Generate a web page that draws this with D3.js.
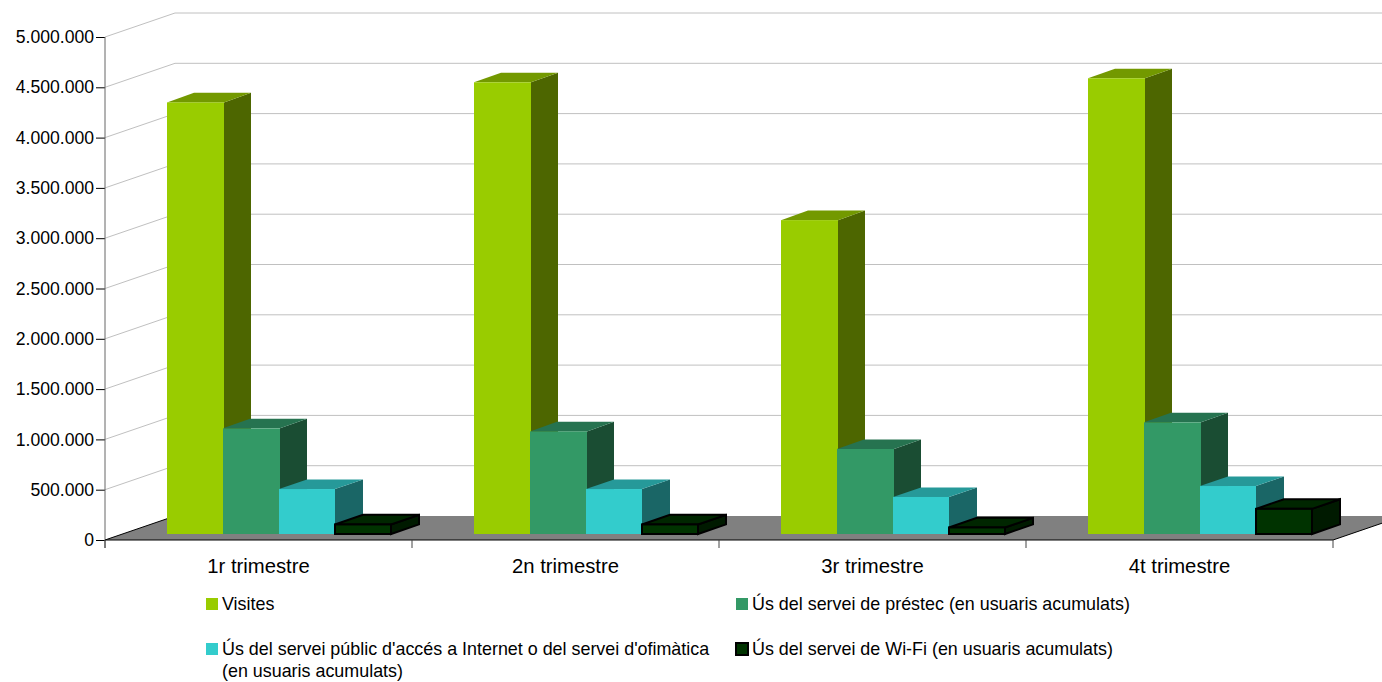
<!DOCTYPE html>
<html>
<head>
<meta charset="utf-8">
<script src="https://cdn.jsdelivr.net/npm/d3@7"></script>
<style>
  html, body { margin: 0; padding: 0; background: #fff; overflow: hidden; }
  text { font-family: "Liberation Sans", Arial, sans-serif; fill: #000; }
</style>
</head>
<body>
<div id="chart"></div>
<script>
var categories = ["1r trimestre", "2n trimestre", "3r trimestre", "4t trimestre"];
var seriesNames = [
    "Visites",
    "Ús del servei de préstec (en usuaris acumulats)",
    "Ús del servei públic d'accés a Internet o del servei d'ofimàtica",
    "Ús del servei de Wi-Fi (en usuaris acumulats)"
];
var visites = [4290000, 4490000, 3120000, 4530000];
var prestec = [1050000, 1020000, 845000, 1110000];
var internet = [447000, 447000, 368000, 477000];
var wifi = [95000, 95000, 65000, 250000];
var yTicks = [0, 500000, 1000000, 1500000, 2000000, 2500000, 3000000, 3500000, 4000000, 4500000, 5000000];

var fronts = ["#99cc00", "#339966", "#33cccc", "#003300"];
var tops = ["#739900", "#267350", "#269999", "#002600"];
var sides = ["#4d6600", "#1a4d33", "#1a6666", "#001a00"];
var strokes = ["none", "none", "none", "#000"];

var svgWidth = 1382;
var svgHeight = 682;

// wall depth and bar depth, the projection goes up and to the right
var depthX = 70, depthY = 24;
var barDepthX = 27, barDepthY = 9.6;
var baseLift = 6;

var svg = d3.select("#chart")
    .append("svg")
    .attr("width", svgWidth)
    .attr("height", svgHeight);

var x0 = d3.scaleBand().domain(categories).range([105, 1333]);
var x1 = d3.scaleBand().domain(d3.range(4)).range([62, 286]);
var y = d3.scaleLinear().domain([0, 5000000]).range([540, 37]);

// floor
var floorY = y(0);
svg.append("polygon")
    .attr("points", [[105, floorY], [1333, floorY], [1333 + depthX, floorY - depthY], [105 + depthX, floorY - depthY]].join(" "))
    .attr("fill", "#808080");

// grid on the left wall and the back wall
var grid = svg.append("g");
yTicks.slice(1).forEach(function (t) {
    grid.append("polyline")
        .attr("points", [[105, y(t)], [105 + depthX, y(t) - depthY], [svgWidth, y(t) - depthY]].join(" "))
        .attr("fill", "none")
        .attr("stroke", "#c0c0c0")
        .attr("stroke-width", 1);
});

svg.append("path")
    .attr("d", "M105," + floorY + "L" + (105 + depthX) + "," + (floorY - depthY))
    .attr("stroke", "#000");
svg.append("path")
    .attr("d", "M1333," + floorY + "L" + (1333 + depthX) + "," + (floorY - depthY))
    .attr("stroke", "#000");

// bars
var allValues = [visites, prestec, internet, wifi];
categories.forEach(function (cat, c) {
    allValues.forEach(function (vals, s) {
        var left = x0(cat) + x1(s);
        // the first three overlap the next bar by a pixel, as in the original
        var w = x1.bandwidth() + (s < 2 ? 1 : 0);
        var base = y(0) - baseLift;
        var h = y(0) - y(vals[c]);
        var topY = base - h;
        var g = svg.append("g")
            .attr("stroke", strokes[s])
            .attr("stroke-width", s == 3 ? 2 : 0)
            .attr("stroke-linejoin", "miter");
        var dx = barDepthX + (s == 2 ? 1 : 0) + (s == 3 ? 1 : 0);
        g.append("polygon")
            .attr("points", [[left + w, topY], [left + w + dx, topY - barDepthY], [left + w + dx, base - barDepthY], [left + w, base]].join(" "))
            .attr("fill", sides[s]);
        g.append("polygon")
            .attr("points", [[left, topY], [left + dx, topY - barDepthY], [left + w + dx, topY - barDepthY], [left + w, topY]].join(" "))
            .attr("fill", tops[s]);
        g.append("rect")
            .attr("x", left)
            .attr("y", topY)
            .attr("width", w)
            .attr("height", h)
            .attr("fill", fronts[s]);
    });
});

// axes
var locale = d3.formatLocale({ decimal: ",", thousands: ".", grouping: [3], currency: ["", " €"] });

var yAxis = d3.axisLeft(y)
    .tickValues(yTicks)
    .tickFormat(locale.format(",d"))
    .tickSize(9)
    .tickPadding(2);
var yG = svg.append("g").attr("transform", "translate(105,0)").call(yAxis);
yG.select(".domain").remove();
yG.selectAll("text").style("font-size", "17.6px").attr("fill", "#000");
yG.selectAll("line").attr("stroke", "#000");

svg.append("line")
    .attr("x1", 105).attr("x2", 105)
    .attr("y1", y(5000000)).attr("y2", 548)
    .attr("stroke", "#666");

var xAxis = d3.axisBottom(x0).tickSize(0).tickPadding(19);
var xG = svg.append("g").attr("transform", "translate(0," + floorY + ")").call(xAxis);
xG.select(".domain").remove();
xG.selectAll("text").style("font-size", "20.3px").attr("fill", "#000");

svg.append("line")
    .attr("x1", 105).attr("x2", 1333)
    .attr("y1", floorY).attr("y2", floorY)
    .attr("stroke", "#000");

// separators under the axis
x0.domain().concat(["end"]).forEach(function (cat, i) {
    var px = 105 + i * x0.bandwidth();
    svg.append("line")
        .attr("x1", px).attr("x2", px)
        .attr("y1", floorY).attr("y2", 548)
        .attr("stroke", "#444");
});

// legend
var legendX = [206, 736, 206, 736];
var legendY = [604, 604, 649, 649];
seriesNames.forEach(function (name, i) {
    svg.append("rect")
        .attr("x", legendX[i])
        .attr("y", legendY[i] - 6)
        .attr("width", 12)
        .attr("height", 12)
        .attr("fill", fronts[i])
        .attr("stroke", strokes[i])
        .attr("stroke-width", i == 3 ? 2 : 0);
    svg.append("text")
        .attr("x", legendX[i] + 16)
        .attr("y", legendY[i] + 5.5)
        .style("font-size", "17.9px")
        .text(name);
});
svg.append("text")
    .attr("x", 222)
    .attr("y", 677)
    .style("font-size", "17.9px")
    .text("(en usuaris acumulats)");
</script>
</body>
</html>
